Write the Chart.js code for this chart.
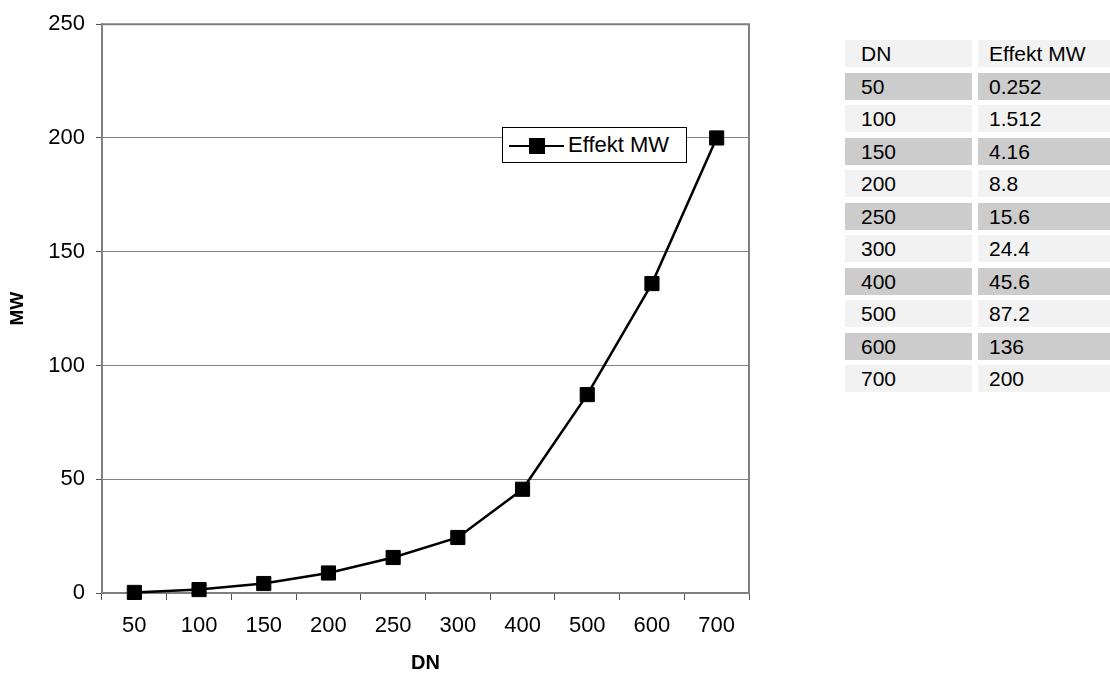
<!DOCTYPE html>
<html lang="de">
<head>
<meta charset="UTF-8" />
<title>Effekt MW per DN</title>
<script src="https://cdn.jsdelivr.net/npm/chart.js@4"></script>
<style>
    html, body { margin: 0; padding: 0; background: #fff; }
    body { width: 1110px; height: 675px; position: relative; overflow: hidden;
           font-family: 'Liberation Sans', Arial, sans-serif; }
    #chartBox { position: absolute; left: 0; top: 0; width: 800px; height: 675px; }

    /* legend sits inside the plot, top right */
    .legend { position: absolute; left: 502px; top: 127px; width: 183px; height: 34px;
              border: 1px solid #000; background: #fff; }
    .legend .line { position: absolute; left: 6px; top: 17px; width: 55px; height: 2px; background: #000; }
    .legend .mark { position: absolute; left: 26px; top: 10px; width: 16px; height: 16px; background: #000; }
    .legend .txt { position: absolute; left: 65px; top: 4px; font-size: 22px; line-height: 26px; color: #000; }

    /* value table on the right */
    .tabelle { position: absolute; left: 845px; top: 40px; display: grid;
               grid-template-columns: 127px 132px; grid-auto-rows: 27px;
               column-gap: 6px; row-gap: 5.5px; font-size: 21px; color: #000; }
    .tabelle div { background: #f2f2f2; line-height: 27px; white-space: nowrap; }
    .tabelle div.c1 { padding-left: 16px; }
    .tabelle div.c2 { padding-left: 11px; }
    .tabelle div.dark { background: #cccccc; }
</style>
</head>
<body>

<div id="chartBox"><canvas id="canvas1" width="800" height="675"></canvas></div>

<div class="legend">
    <div class="line"></div><div class="mark"></div>
    <div class="txt" id="legendText"></div>
</div>

<div class="tabelle" id="tabelle"></div>

<script>
    // Werte
    const dnLabels = ['50', '100', '150', '200', '250', '300', '400', '500', '600', '700'];
    const effektMW = [0.252, 1.512, 4.16, 8.8, 15.6, 24.4, 45.6, 87.2, 136, 200];
    const serienName = 'Effekt MW';
    const yTicks = [0, 50, 100, 150, 200, 250];

    const schrift = "'Liberation Sans', Arial, sans-serif";
    const grau = '#808080';

    // Rahmen oben und rechts um die Zeichenfläche
    const plotRahmen = {
        id: 'plotRahmen',
        afterDraw(chart) {
            const { ctx, chartArea: a } = chart;
            ctx.save();
            ctx.strokeStyle = grau;
            ctx.lineWidth = 2;
            ctx.beginPath();
            ctx.moveTo(a.left, a.top);
            ctx.lineTo(a.right, a.top);
            ctx.lineTo(a.right, a.bottom);
            ctx.stroke();
            ctx.restore();
        }
    };

    const ctx = document.getElementById('canvas1').getContext('2d');
    new Chart(ctx, {
        type: 'line',
        data: {
            labels: dnLabels,
            datasets: [{
                label: serienName,
                data: effektMW,
                borderColor: '#000',
                borderWidth: 2.5,
                tension: 0,
                pointStyle: 'rect',
                pointRadius: 10,
                pointBackgroundColor: '#000',
                pointBorderColor: '#000',
                pointBorderWidth: 1,
                clip: false
            }]
        },
        options: {
            responsive: false,
            animation: false,
            events: [],
            layout: { padding: { left: 0, top: 24, right: 51, bottom: 0 } },
            plugins: { legend: { display: false }, tooltip: { enabled: false } },
            scales: {
                x: {
                    offset: true,
                    grid: { offset: true, drawOnChartArea: false, drawTicks: true,
                            tickLength: 7, tickColor: '#555', tickWidth: 1 },
                    border: { color: grau, width: 2 },
                    ticks: { color: '#000', padding: 13, font: { family: schrift, size: 22 } },
                    title: { display: true, text: 'DN', color: '#000',
                             padding: { top: 0, bottom: 0 },
                             font: { family: schrift, size: 20, weight: 'bold' } },
                    afterFit(scale) { scale.height = 82; }
                },
                y: {
                    min: 0,
                    max: 250,
                    afterBuildTicks(scale) { scale.ticks = yTicks.map(v => ({ value: v })); },
                    grid: { color: grau, lineWidth: 1, tickLength: 6, tickColor: '#555' },
                    border: { color: grau, width: 2 },
                    ticks: { color: '#000', padding: 11, font: { family: schrift, size: 22 } },
                    title: { display: true, text: 'MW', color: '#000',
                             padding: { top: 6, bottom: 0 },
                             font: { family: schrift, size: 19, weight: 'bold' } },
                    afterFit(scale) { scale.width = 102; }
                }
            }
        },
        plugins: [plotRahmen]
    });

    document.getElementById('legendText').textContent = serienName;

    // Tabelle rechts aus denselben Arrays
    const tab = document.getElementById('tabelle');
    function zelle(text, cls) {
        const d = document.createElement('div');
        d.className = cls;
        d.textContent = text;
        tab.appendChild(d);
    }
    zelle('DN', 'c1');
    zelle(serienName, 'c2');
    dnLabels.forEach((dn, i) => {
        const dark = i % 2 === 0 ? ' dark' : '';
        zelle(dn, 'c1' + dark);
        zelle(String(effektMW[i]), 'c2' + dark);
    });
</script>
</body>
</html>
